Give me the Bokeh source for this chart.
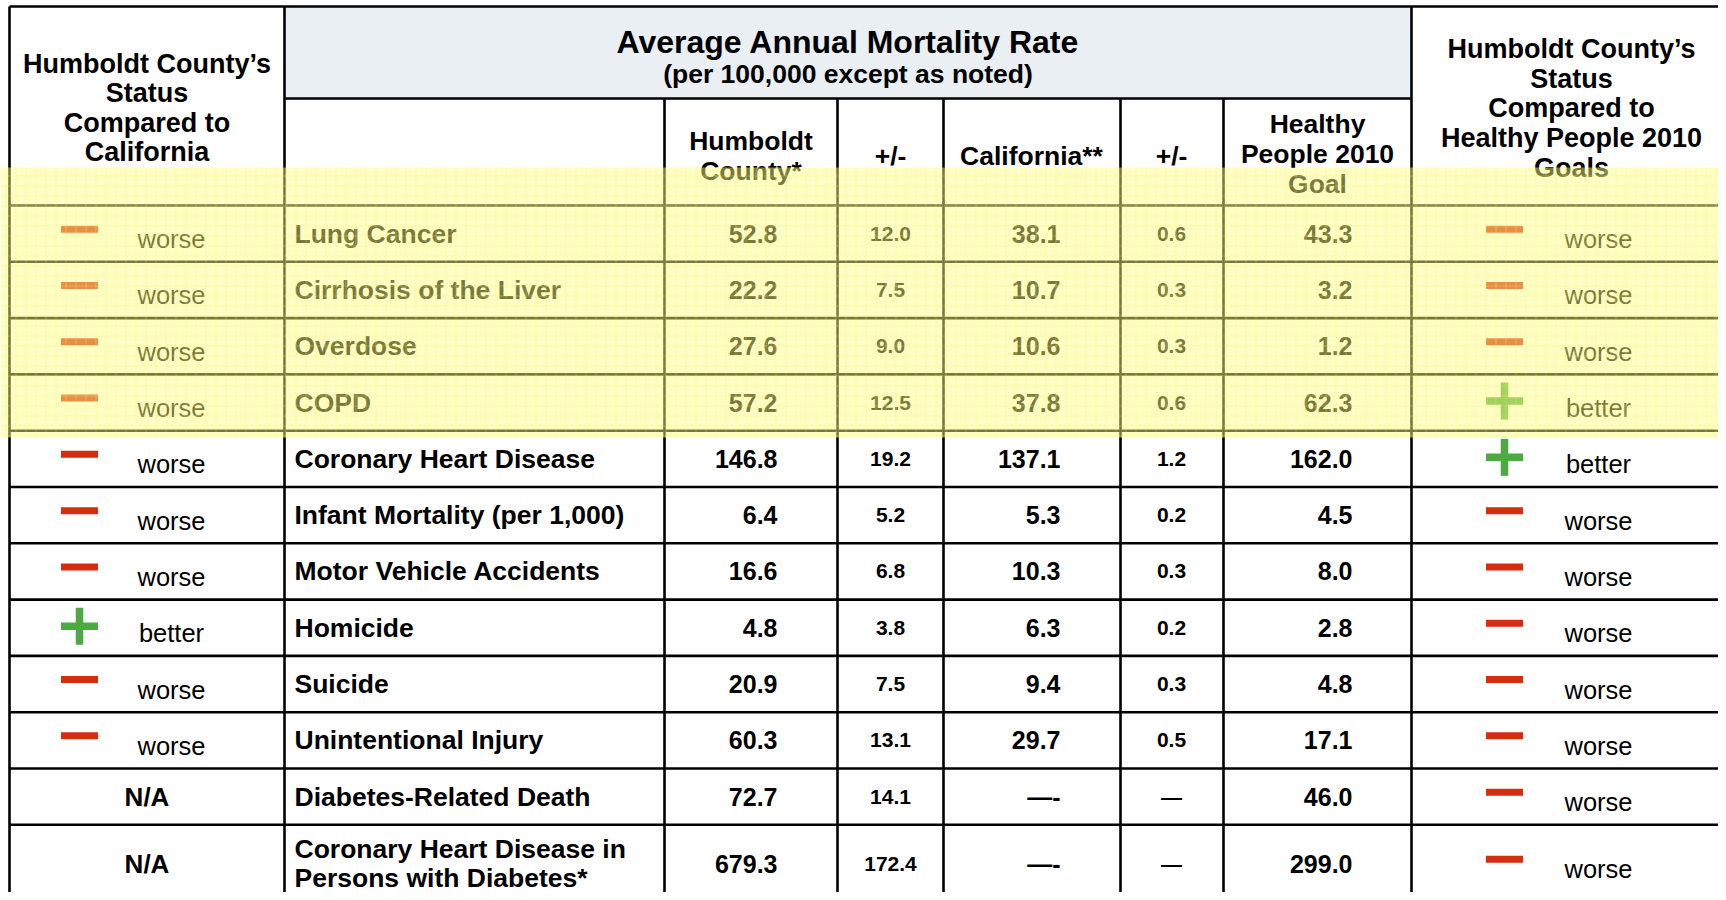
from bokeh.plotting import figure
from bokeh.models import Range1d
from bokeh.core.properties import value
from bokeh.embed import file_html
from bokeh.resources import INLINE

# ---------------- data ----------------
causes = ["Lung Cancer", "Cirrhosis of the Liver", "Overdose", "COPD",
          "Coronary Heart Disease", "Infant Mortality (per 1,000)",
          "Motor Vehicle Accidents", "Homicide", "Suicide", "Unintentional Injury",
          "Diabetes-Related Death", "Coronary Heart Disease in\nPersons with Diabetes*"]
status_vs_ca = ["worse", "worse", "worse", "worse", "worse", "worse", "worse",
                "better", "worse", "worse", "N/A", "N/A"]
humboldt_rate = [52.8, 22.2, 27.6, 57.2, 146.8, 6.4, 16.6, 4.8, 20.9, 60.3, 72.7, 679.3]
humboldt_pm = [12.0, 7.5, 9.0, 12.5, 19.2, 5.2, 6.8, 3.8, 7.5, 13.1, 14.1, 172.4]
california_rate = [38.1, 10.7, 10.6, 37.8, 137.1, 5.3, 10.3, 6.3, 9.4, 29.7, None, None]
california_pm = [0.6, 0.3, 0.3, 0.6, 1.2, 0.2, 0.3, 0.2, 0.3, 0.5, None, None]
hp2010_goal = [43.3, 3.2, 1.2, 62.3, 162.0, 4.5, 8.0, 2.8, 4.8, 17.1, 46.0, 299.0]
status_vs_hp = ["worse", "worse", "worse", "better", "better", "worse", "worse",
                "worse", "worse", "worse", "worse", "worse"]

# ---------------- layout ----------------
FONT = value("Liberation Sans")
RED = "#d52d10"
GREEN = "#4ea843"
X_L, X_R = 9, 1726
COLS = [9, 284, 664, 837, 943, 1120, 1223, 1411]
Y_TOP, Y_H1, Y_H2 = 6, 98, 205
ROW_H, LAST_H = 56.3, 78

n = len(causes)
row_tops = [Y_H2 + i * ROW_H for i in range(n)]
row_bot = [t + ROW_H for t in row_tops[:-1]] + [row_tops[-1] + LAST_H]
row_c = [(a + b) / 2 for a, b in zip(row_tops, row_bot)]

p = figure(width=1718, height=892, x_range=Range1d(0, 1718), y_range=Range1d(892, 0),
           x_axis_location=None, y_axis_location=None, toolbar_location=None,
           output_backend="svg", min_border=0, outline_line_color=None)
p.grid.visible = False


def txt(xs, ys, texts, size, align="center", bold=True, color="black"):
    p.text(x=xs, y=ys, text=texts, text_font=FONT, text_font_size=f"{size}px",
           text_font_style="bold" if bold else "normal", text_align=align,
           text_baseline="middle", text_color=color)


# header background
p.quad(left=[COLS[1]], right=[COLS[7]], top=[Y_TOP], bottom=[Y_H1],
       fill_color="#e9eff2", line_color=None)

# grid lines
LW = 2.6
hx0, hy0, hx1, hy1 = [X_L], [Y_TOP], [X_R], [Y_TOP]
hx0 += [COLS[1]]; hy0 += [Y_H1]; hx1 += [COLS[7]]; hy1 += [Y_H1]
for yb in [Y_H2] + row_bot[:-1]:
    hx0.append(X_L); hy0.append(yb); hx1.append(X_R); hy1.append(yb)
p.segment(x0=hx0, y0=hy0, x1=hx1, y1=hy1, line_color="black", line_width=LW)
vx, vy0 = [], []
for i, cx in enumerate(COLS):
    vx.append(cx)
    vy0.append(Y_TOP if i in (0, 1, 7) else Y_H1)
p.segment(x0=vx, y0=vy0, x1=vx, y1=[900] * len(vx), line_color="black", line_width=LW)

# header texts
txt([146.5] * 4, [63, 92, 122, 151],
    ["Humboldt County\u2019s", "Status", "Compared to", "California"], 27)
txt([847.5], [41], ["Average Annual Mortality Rate"], 32)
txt([847.5], [73], ["(per 100,000 except as noted)"], 26.5)
txt([750.5, 750.5], [140, 170], ["Humboldt", "County*"], 26.5)
txt([890, 1031, 1171], [155, 155, 155], ["+/-", "California**", "+/-"], 26.5)
txt([1317] * 3, [123, 153, 183], ["Healthy", "People 2010", "Goal"], 26.5)
txt([1571] * 5, [48, 78, 107, 137, 167],
    ["Humboldt County\u2019s", "Status", "Compared to", "Healthy People 2010", "Goals"], 27)


def fmt(v):
    return "\u2014" if v is None else f"{v:.1f}"


# cause names (multi-line split)
nx, ny, nt = [], [], []
for c, yc in zip(causes, row_c):
    lines = c.split("\n")
    k = len(lines)
    for j, ln in enumerate(lines):
        nx.append(294); ny.append(yc + (j - (k - 1) / 2) * 29); nt.append(ln)
txt(nx, ny, nt, 26.5, align="left")

# numeric columns
txt([777] * n, row_c, [fmt(v) for v in humboldt_rate], 25, align="right")
txt([890] * n, row_c, [fmt(v) for v in humboldt_pm], 21)
txt([1060] * n, row_c, [fmt(v) + ("-" if v is None else "") for v in california_rate], 25, align="right")
txt([1171] * n, row_c, [fmt(v) for v in california_pm], 21)
txt([1352] * n, row_c, [fmt(v) for v in hp2010_goal], 25, align="right")


# status columns
def status(col_status, icon_x, text_x, na_x):
    mx, my, px_, py_, tx, ty, tt, nax, nay = [], [], [], [], [], [], [], [], []
    for s, yc in zip(col_status, row_c):
        if s == "N/A":
            nax.append(na_x); nay.append(yc)
        elif s == "worse":
            mx.append(icon_x); my.append(yc - 4.5)
            tx.append(text_x); ty.append(yc + 5.5); tt.append(s)
        else:
            px_.append(icon_x); py_.append(yc - 1.5)
            tx.append(text_x); ty.append(yc + 5.5); tt.append(s)
    if mx:
        p.rect(x=mx, y=my, width=37, height=7, fill_color=RED, line_color=None)
    if px_:
        p.rect(x=px_, y=py_, width=37, height=7.5, fill_color=GREEN, line_color=None)
        p.rect(x=px_, y=py_, width=7.5, height=37, fill_color=GREEN, line_color=None)
    txt(tx, ty, tt, 25.5, bold=False)
    if nax:
        txt(nax, nay, ["N/A"] * len(nax), 26)


status(status_vs_ca, 79, 171, 146.5)
status(status_vs_hp, 1504, 1598, 1571)

# yellow highlight overlay
p.quad(left=[0], right=[1718], top=[167], bottom=[437], fill_color="#ffff80", fill_alpha=0.47,
       line_color=None, hatch_pattern="+", hatch_color="#eeea70", hatch_alpha=0.45,
       hatch_scale=10, hatch_weight=0.7)

open("out.html", "w").write(file_html(p, INLINE))
